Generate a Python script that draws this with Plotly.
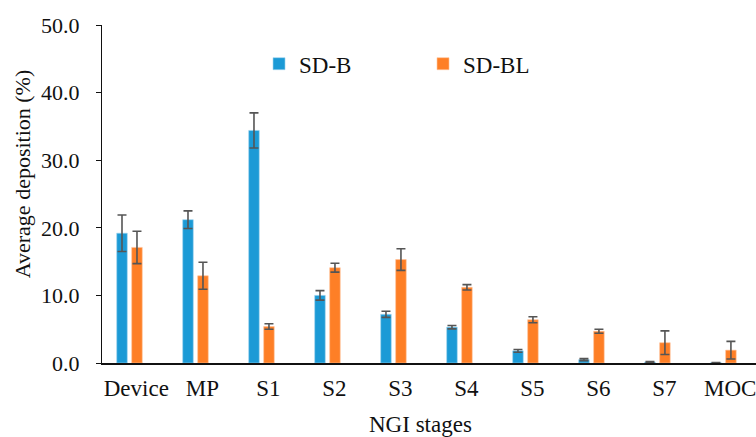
import plotly.graph_objects as go

# NGI stage deposition, mean ± SD for the two formulations
stages = ["Device", "MP", "S1", "S2", "S3", "S4", "S5", "S6", "S7", "MOC"]
sd_b = [19.2, 21.2, 34.4, 10.0, 7.2, 5.3, 1.8, 0.5, 0.15, 0.05]
sd_b_err = [2.7, 1.3, 2.6, 0.7, 0.45, 0.25, 0.2, 0.15, 0.05, 0.03]
sd_bl = [17.1, 12.9, 5.4, 14.1, 15.3, 11.2, 6.4, 4.7, 3.0, 1.9]
sd_bl_err = [2.4, 2.0, 0.4, 0.65, 1.6, 0.4, 0.45, 0.3, 1.75, 1.3]
y_ticks = [0, 10, 20, 30, 40, 50]

FONT = "Liberation Serif"
BLUE = "#1b9ad6"
ORANGE = "#fe7f26"
ERR = "#555555"
TXT = "#111111"

x_idx = list(range(len(stages)))

fig = go.Figure()
fig.add_trace(go.Bar(
    x=x_idx, y=sd_b, name="SD-B",
    width=0.16, offset=-0.297,
    marker=dict(color=BLUE, line=dict(color="#9fd3ef", width=0.6)),
    error_y=dict(type="data", array=sd_b_err, visible=True,
                 color=ERR, thickness=1.6, width=4.5),
))
fig.add_trace(go.Bar(
    x=x_idx, y=sd_bl, name="SD-BL",
    width=0.16, offset=-0.07,
    marker=dict(color=ORANGE, line=dict(color="#ffc39a", width=0.6)),
    error_y=dict(type="data", array=sd_bl_err, visible=True,
                 color=ERR, thickness=1.6, width=4.5),
))

fig.update_layout(
    width=756, height=437,
    margin=dict(l=102, r=0, t=25, b=74, pad=0),
    paper_bgcolor="white", plot_bgcolor="white",
    barmode="overlay",
    font=dict(family=FONT, size=22, color=TXT),
    showlegend=True,
    legend=dict(
        orientation="h", x=0.2401, y=0.949, xanchor="left", yanchor="top",
        font=dict(family=FONT, size=23, color=TXT),
        bgcolor="rgba(0,0,0,0)", entrywidth=119, entrywidthmode="pixels",
        traceorder="normal",
    ),
    xaxis=dict(
        range=[-0.52, 9.39],
        tickmode="array", tickvals=x_idx, ticktext=stages,
        showline=True, linecolor=TXT, linewidth=2,
        ticks="", showgrid=False, zeroline=False,
        tickfont=dict(family=FONT, size=23, color=TXT),
        ticklabelstandoff=3, ticklabeloverflow="allow",
    ),
    yaxis=dict(
        range=[0, 50],
        tickmode="array", tickvals=y_ticks,
        ticktext=[f"{v:.1f}" for v in y_ticks],
        showline=True, linecolor=TXT, linewidth=1.4,
        ticks="outside", ticklen=5, tickcolor=TXT, tickwidth=1.4,
        showgrid=False, zeroline=False,
        tickfont=dict(family=FONT, size=22, color=TXT),
        ticklabelstandoff=12, ticklabeloverflow="allow",
    ),
    annotations=[
        dict(text="Average deposition (%)", xref="paper", yref="paper",
             x=-0.121, y=0.561, xanchor="center", yanchor="middle",
             textangle=-90, showarrow=False,
             font=dict(family=FONT, size=22, color=TXT)),
        dict(text="NGI stages", xref="paper", yref="paper",
             x=0.487, y=-0.183, xanchor="center", yanchor="middle",
             showarrow=False,
             font=dict(family=FONT, size=23, color=TXT)),
    ],
)

fig.write_html("out.html")
